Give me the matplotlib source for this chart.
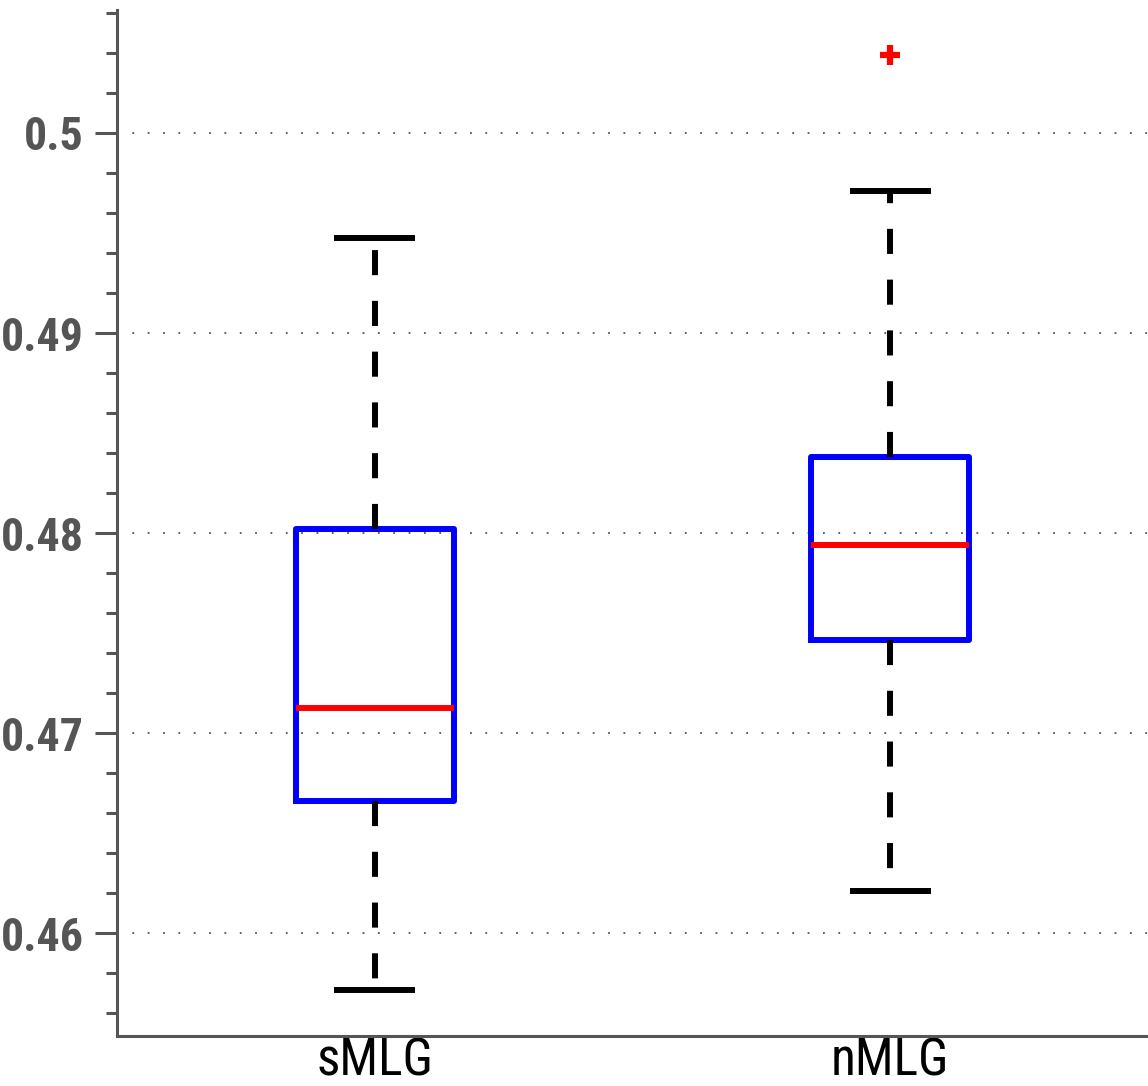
import matplotlib
matplotlib.use("Agg")
import matplotlib.pyplot as plt
from matplotlib.ticker import MultipleLocator, FuncFormatter

# ========== 数据 ==========
labels = ["sMLG", "nMLG"]
q1 = [0.4666, 0.47465]
med = [0.47125, 0.4794]
q3 = [0.4802, 0.4838]
whislo = [0.45715, 0.4621]
whishi = [0.49475, 0.4971]
fliers = [[], [0.5039]]

axis_grey = "#555555"
plt.rcParams["font.family"] = ["Roboto Condensed", "DejaVu Sans"]

stats = []
for i in range(len(labels)):
    stats.append({"label": labels[i], "q1": q1[i], "med": med[i], "q3": q3[i],
                  "whislo": whislo[i], "whishi": whishi[i], "fliers": fliers[i]})

fig = plt.figure(figsize=(11.48, 10.86), dpi=100)
ax = fig.add_axes([0.1019, 0.046, 0.8981, 0.9448])

ax.bxp(stats, positions=[1, 2], widths=0.306, showfliers=True,
       boxprops=dict(color="blue", linewidth=4.3),
       medianprops=dict(color="red", linewidth=4.3),
       whiskerprops=dict(color="black", linewidth=4.3, linestyle=(0, (4.2, 4.3))),
       capprops=dict(color="black", linewidth=4.3),
       capwidths=0.146,
       flierprops=dict(marker="+", markeredgecolor="red", markersize=15,
                       markeredgewidth=4.5))

ax.set_xlim(0.5, 2.5)
ax.set_ylim(0.45485, 0.50615)

ax.yaxis.set_major_locator(MultipleLocator(0.01))
ax.yaxis.set_minor_locator(MultipleLocator(0.002))
ax.yaxis.set_major_formatter(FuncFormatter(lambda v, p: f"{v:.2f}".rstrip("0")))
ax.yaxis.grid(True, which="major", linestyle=(0, (1, 7.5)), linewidth=1.3, color=axis_grey)
ax.set_axisbelow(True)

for s in ["top", "right"]:
    ax.spines[s].set_visible(False)
for s in ["left", "bottom"]:
    ax.spines[s].set_color(axis_grey)
    ax.spines[s].set_linewidth(2.2)

ax.tick_params(axis="y", which="major", length=16, width=2.2, color=axis_grey,
               labelsize=33, labelcolor=axis_grey, pad=8)
ax.tick_params(axis="y", which="minor", length=8, width=2.2, color=axis_grey)
ax.tick_params(axis="x", length=0, labelsize=37, labelcolor="black", pad=0)
for t in ax.get_yticklabels():
    t.set_fontweight("bold")

fig.savefig("out.png", dpi=100)
